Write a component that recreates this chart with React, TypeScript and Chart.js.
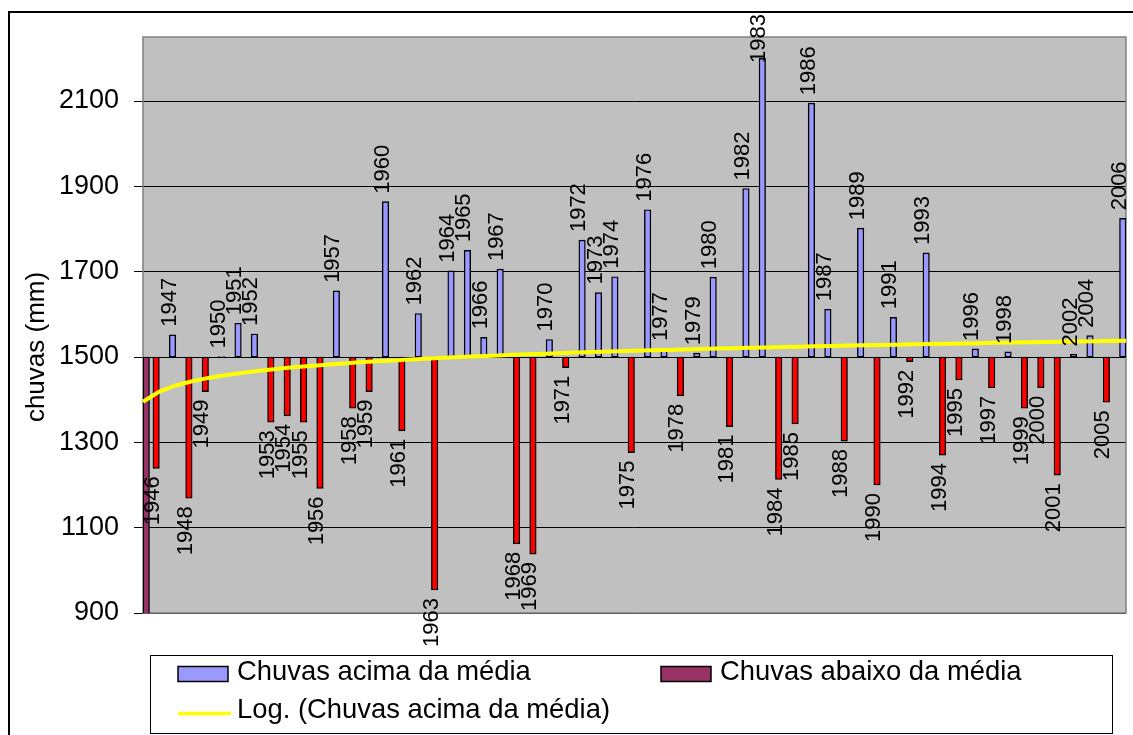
import React, { useEffect, useRef } from 'react';
import { Chart, registerables } from 'chart.js';

Chart.register(...registerables);

const FONTE = '"Liberation Sans", Arial, Helvetica, sans-serif';

// Anos da série (não há registro de 2003)
const anos = [
  '1945', '1946', '1947', '1948', '1949', '1950', '1951', '1952', '1953', '1954',
  '1955', '1956', '1957', '1958', '1959', '1960', '1961', '1962', '1963', '1964',
  '1965', '1966', '1967', '1968', '1969', '1970', '1971', '1972', '1973', '1974',
  '1975', '1976', '1977', '1978', '1979', '1980', '1981', '1982', '1983', '1984',
  '1985', '1986', '1987', '1988', '1989', '1990', '1991', '1992', '1993', '1994',
  '1995', '1996', '1997', '1998', '1999', '2000', '2001', '2002', '2004', '2005',
  '2006',
];

// Chuva anual (mm), alinhada com "anos"
const chuvasAnuais: (number | null)[] = [
  null, 1239, 1552, 1169, 1419, 1501, 1579, 1554, 1347, 1362,
  1347, 1192, 1655, 1380, 1419, 1864, 1327, 1602, 954, 1702,
  1750, 1546, 1706, 1062, 1038, 1541, 1475, 1774, 1651, 1688,
  1276, 1845, 1519, 1409, 1509, 1687, 1337, 1895, 2200, 1213,
  1343, 2095, 1612, 1303, 1802, 1200, 1593, 1489, 1744, 1270,
  1446, 1519, 1428, 1512, 1380, 1428, 1223, 1506, 1550, 1394,
  1825,
];

// Segunda série: só tem valor no primeiro ano
const chuvasAbaixo: Record<string, number> = { '1945': 891 };

// Coeficientes da tendência logarítmica y = a·ln(x) + b, x = 1..n
const tendenciaCoef = { a: 34.8, b: 1395 };

const MEDIA = 1500;
const marcasY = [900, 1100, 1300, 1500, 1700, 1900, 2100];
const Y_MIN = 900;
const Y_MAX = 2250;

const AZUL = '#9999FF';
const VERMELHO = '#FF0000';
const VINHO = '#993366';
const AMARELO = '#FFFF00';

const fundoPlugin = {
  id: 'fundo',
  beforeDraw(chart: any) {
    const { ctx, chartArea: a } = chart;
    ctx.save();
    ctx.fillStyle = '#FFFFFF';
    ctx.fillRect(0, 0, chart.width, chart.height);
    // moldura externa
    ctx.strokeStyle = '#000';
    ctx.lineWidth = 2;
    ctx.beginPath();
    ctx.moveTo(9, chart.height + 2);
    ctx.lineTo(9, 12);
    ctx.lineTo(chart.width + 2, 12);
    ctx.stroke();
    // área de plotagem
    ctx.fillStyle = '#C0C0C0';
    ctx.fillRect(a.left, a.top, a.right - a.left, a.bottom - a.top);
    ctx.restore();
  },
  beforeDatasetsDraw(chart: any) {
    const { ctx, chartArea: a } = chart;
    ctx.save();
    ctx.strokeStyle = '#808080';
    ctx.lineWidth = 1.5;
    ctx.strokeRect(a.left, a.top, a.right - a.left, a.bottom - a.top);
    ctx.restore();
  },
};

const rotulosPlugin = {
  id: 'rotulos',
  afterDatasetsDraw(chart: any) {
    const { ctx } = chart;
    const y = chart.scales.y;
    ctx.save();
    ctx.font = `22px ${FONTE}`;
    ctx.fillStyle = '#000';
    ctx.textBaseline = 'middle';
    chart.data.datasets.forEach((ds: any, di: number) => {
      if (!ds.rotulos) return;
      const meta = chart.getDatasetMeta(di);
      ds.valores.forEach((v: number | null, i: number) => {
        if (v == null) return;
        const el = meta.data[i];
        const texto = chart.data.labels[i];
        const w = ctx.measureText(texto).width;
        const px = el.x - 3;
        const acima = v >= MEDIA;
        let py = y.getPixelForValue(v) + (acima ? -8 : 8);
        // mantém o rótulo dentro da moldura
        if (acima && py - w < 14) py = 14 + w;
        ctx.save();
        ctx.translate(px, py);
        ctx.rotate(-Math.PI / 2);
        ctx.textAlign = acima ? 'left' : 'right';
        ctx.fillText(texto, 0, 0);
        ctx.restore();
      });
    });
    ctx.restore();
  },
};

const textosPlugin = {
  id: 'textos',
  afterDraw(chart: any) {
    const { ctx } = chart;
    const ds = chart.data.datasets;
    ctx.save();
    // título do eixo vertical
    ctx.fillStyle = '#000';
    ctx.font = `26px ${FONTE}`;
    ctx.translate(43.5, 347);
    ctx.rotate(-Math.PI / 2);
    ctx.textAlign = 'center';
    ctx.textBaseline = 'alphabetic';
    ctx.fillText('chuvas (mm)', 0, 0);
    ctx.restore();

    // legenda
    ctx.save();
    ctx.fillStyle = '#FFFFFF';
    ctx.fillRect(150.5, 655.5, 962, 78);
    ctx.strokeStyle = '#000';
    ctx.lineWidth = 1;
    ctx.strokeRect(150.5, 655.5, 962, 78);
    ctx.font = `27.4px ${FONTE}`;
    ctx.textAlign = 'left';
    ctx.textBaseline = 'alphabetic';
    const itens = [
      { d: ds[1], x: 178, linha: 0 },
      { d: ds[2], x: 661, linha: 0 },
      { d: ds[0], x: 178, linha: 1 },
    ];
    itens.forEach(({ d, x, linha }) => {
      const base = linha === 0 ? 680 : 718;
      if (d.type === 'line') {
        ctx.strokeStyle = d.borderColor;
        ctx.lineWidth = 3.5;
        ctx.beginPath();
        ctx.moveTo(x, base - 4.5);
        ctx.lineTo(x + 53, base - 4.5);
        ctx.stroke();
      } else {
        ctx.fillStyle = d.corLegenda;
        ctx.fillRect(x, base - 13.5, 50, 15);
        ctx.strokeStyle = '#000';
        ctx.lineWidth = 1.5;
        ctx.strokeRect(x, base - 13.5, 50, 15);
      }
      ctx.fillStyle = '#000';
      ctx.fillText(d.label, x + 59, base);
    });
    ctx.restore();
  },
};

export default function App() {
  const ref = useRef<HTMLCanvasElement>(null);

  useEffect(() => {
    const canvas = ref.current;
    if (!canvas) return;

    const tendencia = anos.map((_, i) => tendenciaCoef.a * Math.log(i + 1) + tendenciaCoef.b);
    const abaixo = anos.map((a) => (chuvasAbaixo[a] != null ? chuvasAbaixo[a] : null));

    const chart = new Chart(canvas, {
      type: 'bar',
      data: {
        labels: anos,
        datasets: [
          {
            type: 'line',
            label: 'Log. (Chuvas acima da média)',
            data: tendencia,
            borderColor: AMARELO,
            borderWidth: 4,
            pointRadius: 0,
            tension: 0,
            order: 0,
          } as any,
          {
            type: 'bar',
            label: 'Chuvas acima da média',
            data: chuvasAnuais.map((v) => (v == null ? null : [MEDIA, v])),
            valores: chuvasAnuais,
            rotulos: true,
            corLegenda: AZUL,
            backgroundColor: chuvasAnuais.map((v) => (v != null && v < MEDIA ? VERMELHO : AZUL)),
            borderColor: '#000',
            borderWidth: 1.4,
            borderSkipped: false,
            barThickness: 6.5,
            order: 1,
          } as any,
          {
            type: 'bar',
            label: 'Chuvas abaixo da média',
            data: abaixo.map((v) => (v == null ? null : [MEDIA, v])),
            valores: abaixo,
            rotulos: false,
            corLegenda: VINHO,
            backgroundColor: VINHO,
            borderColor: '#000',
            borderWidth: 1.4,
            borderSkipped: false,
            barThickness: 6.5,
            order: 2,
          } as any,
        ],
      },
      options: {
        animation: false,
        responsive: false,
        devicePixelRatio: 1,
        layout: { padding: { left: 1, top: 37, right: 7, bottom: 122 } },
        plugins: {
          legend: { display: false },
          tooltip: { enabled: false },
        },
        scales: {
          x: {
            type: 'category',
            offset: false,
            display: false,
            grid: { display: false },
          },
          y: {
            min: Y_MIN,
            max: Y_MAX,
            afterBuildTicks: (axis: any) => {
              axis.ticks = marcasY.map((v) => ({ value: v }));
            },
            afterFit: (axis: any) => {
              axis.width = 142;
            },
            ticks: {
              color: '#000',
              padding: 15,
              font: { family: FONTE, size: 27 },
              callback: (v: any) => String(v),
            },
            grid: {
              color: '#000',
              lineWidth: 1,
              drawTicks: true,
              tickLength: 9,
              tickColor: '#000',
            },
            border: { display: false },
          },
        },
      } as any,
      plugins: [fundoPlugin, rotulosPlugin, textosPlugin],
    });

    return () => chart.destroy();
  }, []);

  return (
    <div style={{ position: 'fixed', left: 0, top: 0, width: 1133, height: 735, background: '#fff' }}>
      <canvas ref={ref} width={1133} height={735} style={{ display: 'block' }} />
    </div>
  );
}
